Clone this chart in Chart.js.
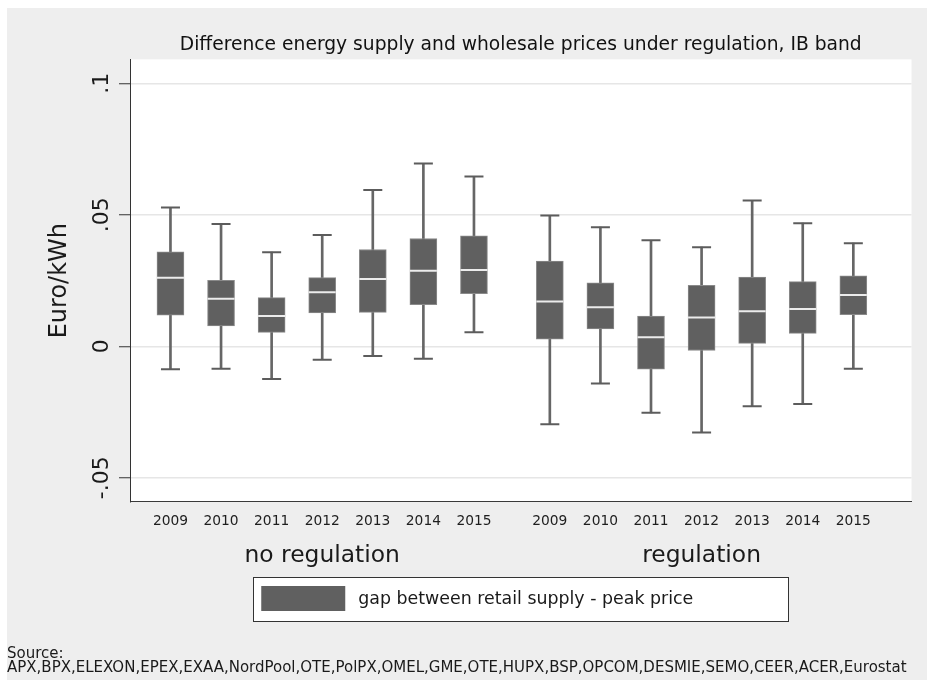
<!DOCTYPE html>
<html>
<head>
<meta charset="utf-8">
<script src="https://cdn.jsdelivr.net/npm/chart.js@4.4.1/dist/chart.umd.min.js"></script>
<style>
  html, body { margin: 0; padding: 0; background: #fff; }
  #wrap { width: 927px; height: 680px; }
</style>
</head>
<body>
<div id="wrap"><canvas id="chart" width="927" height="680"></canvas></div>
<script>
// categories
const years = ['2009', '2010', '2011', '2012', '2013', '2014', '2015'];
const groups = ['no regulation', 'regulation'];

// box stats in Euro/kWh: lower whisker, 25th pct, median, 75th pct, upper whisker
const noRegLow  = [-0.0087, -0.0085, -0.0124, -0.0051, -0.0037, -0.0047, 0.0053];
const noRegQ1   = [0.0118, 0.0077, 0.0053, 0.0127, 0.0129, 0.0158, 0.0200];
const noRegMed  = [0.0261, 0.0181, 0.0115, 0.0205, 0.0256, 0.0287, 0.0290];
const noRegQ3   = [0.0359, 0.0251, 0.0185, 0.0261, 0.0368, 0.0410, 0.0420];
const noRegHigh = [0.0528, 0.0465, 0.0358, 0.0423, 0.0594, 0.0695, 0.0646];

const regLow  = [-0.0296, -0.0141, -0.0253, -0.0328, -0.0228, -0.0219, -0.0085];
const regQ1   = [0.0027, 0.0066, -0.0087, -0.0016, 0.0011, 0.0049, 0.0120];
const regMed  = [0.0170, 0.0148, 0.0034, 0.0109, 0.0133, 0.0142, 0.0195];
const regQ3   = [0.0324, 0.0241, 0.0115, 0.0232, 0.0263, 0.0246, 0.0268];
const regHigh = [0.0497, 0.0453, 0.0403, 0.0377, 0.0554, 0.0468, 0.0392];

// y axis ticks
const yTickValues = [-0.05, 0, 0.05, 0.1];
const yTickLabels = ['-.05', '0', '.05', '.1'];

const titleText = 'Difference energy supply and wholesale prices under regulation, IB band';
const legendLabel = 'gap between retail supply - peak price';
const sourceLines = [
  'Source:',
  'APX,BPX,ELEXON,EPEX,EXAA,NordPool,OTE,PolPX,OMEL,GME,OTE,HUPX,BSP,OPCOM,DESMIE,SEMO,CEER,ACER,Eurostat'
];

const BOX_COLOR = '#606060';
const FONT = '"DejaVu Sans", Verdana, sans-serif';

// x slot of each box: one unit per year, half a unit extra between the groups
const positions = groups.flatMap((g, gi) => years.map((y, i) => 1 + i + gi * (years.length + 0.5)));
const yearLabels = groups.flatMap(() => years);

const low  = noRegLow.concat(regLow);
const q1   = noRegQ1.concat(regQ1);
const med  = noRegMed.concat(regMed);
const q3   = noRegQ3.concat(regQ3);
const high = noRegHigh.concat(regHigh);

const boxData = positions.map((x, i) => ({ x, y: [q1[i], q3[i]] }));
const whiskerData = positions.map((x, i) => ({ x, y: [low[i], high[i]] }));
const medianData = positions.map((x, i) => ({ x, y: med[i] }));
const capData = positions.flatMap((x, i) => [{ x, y: high[i] }, { x, y: low[i] }]);

Chart.defaults.font.family = FONT;
Chart.defaults.color = '#1a1a1a';

// background, rotated y labels, group labels, legend box and source note
const stataFrame = {
  id: 'stataFrame',
  beforeDraw(chart) {
    const { ctx, chartArea: a } = chart;
    ctx.save();
    ctx.fillStyle = '#ffffff';
    ctx.fillRect(0, 0, chart.width, chart.height);
    ctx.fillStyle = '#eeeeee';
    ctx.fillRect(7, 8, chart.width - 7, chart.height - 8);
    ctx.fillStyle = '#ffffff';
    ctx.fillRect(a.left, a.top, a.right - a.left, a.bottom - a.top);
    ctx.restore();
  },
  afterDraw(chart) {
    const { ctx, chartArea: a } = chart;
    const ys = chart.scales.y;
    const xs = chart.scales.x;
    ctx.save();
    ctx.fillStyle = '#1a1a1a';

    // y tick labels, rotated like Stata
    ctx.font = '22px ' + FONT;
    ctx.textAlign = 'center';
    ctx.textBaseline = 'middle';
    yTickValues.forEach((v, i) => {
      ctx.save();
      ctx.translate(a.left - 28, ys.getPixelForValue(v));
      ctx.rotate(-Math.PI / 2);
      ctx.fillText(yTickLabels[i], 0, 0);
      ctx.restore();
    });

    // group labels under the years
    ctx.font = '23.4px ' + FONT;
    groups.forEach((g, gi) => {
      const slots = positions.slice(gi * years.length, (gi + 1) * years.length);
      const mid = (xs.getPixelForValue(slots[0]) + xs.getPixelForValue(slots[slots.length - 1])) / 2;
      ctx.fillText(g, mid, a.bottom + 54);
    });

    // legend
    const cx = (a.left + a.right) / 2;
    const lx = cx - 267.5, ly = a.bottom + 75, lw = 535, lh = 44;
    ctx.fillStyle = '#ffffff';
    ctx.fillRect(lx, ly, lw, lh);
    ctx.strokeStyle = '#333333';
    ctx.lineWidth = 1;
    ctx.strokeRect(Math.round(lx) + 0.5, Math.round(ly) + 0.5, lw, lh);
    ctx.fillStyle = BOX_COLOR;
    ctx.fillRect(lx + 8, ly + 9, 84, 25);
    ctx.fillStyle = '#1a1a1a';
    ctx.font = '17.4px ' + FONT;
    ctx.textAlign = 'left';
    ctx.fillText(legendLabel, lx + 105, ly + 22);

    // source note
    ctx.font = '15px ' + FONT;
    ctx.fillText(sourceLines[0], 7, 654);
    ctx.fillText(sourceLines[1], 7, 668);
    ctx.restore();
  }
};

new Chart(document.getElementById('chart'), {
  type: 'bar',
  data: {
    datasets: [
      {
        type: 'line',
        label: 'median',
        data: medianData,
        showLine: false,
        pointStyle: 'line',
        pointRadius: 13.5,
        pointBorderWidth: 2,
        pointBorderColor: '#ececec',
        order: 0
      },
      {
        label: legendLabel,
        data: boxData,
        backgroundColor: BOX_COLOR,
        borderColor: '#8a8a8a',
        borderWidth: 1,
        borderSkipped: false,
        barThickness: 27,
        grouped: false,
        order: 1
      },
      {
        type: 'line',
        label: 'caps',
        data: capData,
        showLine: false,
        pointStyle: 'line',
        pointRadius: 9.5,
        pointBorderWidth: 2,
        pointBorderColor: '#5c5c5c',
        order: 2
      },
      {
        label: 'whiskers',
        data: whiskerData,
        backgroundColor: '#666666',
        borderWidth: 0,
        barThickness: 2,
        grouped: false,
        order: 3
      }
    ]
  },
  options: {
    responsive: false,
    animation: false,
    events: [],
    layout: { padding: { left: 0, right: 9.3, top: 0, bottom: 0 } },
    plugins: {
      legend: { display: false },
      tooltip: { enabled: false },
      title: {
        display: true,
        fullSize: false,
        text: titleText,
        color: '#111111',
        font: { size: 18.7, weight: 'normal' },
        padding: { top: 33.5, bottom: 3.4 }
      }
    },
    scales: {
      x: {
        type: 'linear',
        offset: false,
        min: 0.2,
        max: 15.65,
        afterBuildTicks: s => { s.ticks = positions.map(v => ({ value: v })); },
        afterFit: s => { s.height = 178; },
        grid: { display: false, drawTicks: false, offset: false },
        border: { display: true, color: '#3a3a3a', width: 1 },
        ticks: {
          autoSkip: false,
          maxRotation: 0,
          minRotation: 0,
          padding: 10.7,
          color: '#1e1e1e',
          font: { size: 13.8 },
          callback: (v, i) => yearLabels[i]
        }
      },
      y: {
        min: -0.0592,
        max: 0.1091,
        afterBuildTicks: s => { s.ticks = yTickValues.map(v => ({ value: v })); },
        afterFit: s => { s.width = 130; },
        ticks: { display: false },
        grid: {
          color: '#e6e6e6',
          lineWidth: 1.5,
          drawTicks: true,
          tickLength: 11,
          tickColor: '#333333',
          tickWidth: 1
        },
        border: { display: true, color: '#333333', width: 1 },
        title: {
          display: true,
          text: 'Euro/kWh',
          color: '#1a1a1a',
          font: { size: 24 },
          padding: { top: 45, bottom: 0 }
        }
      }
    }
  },
  plugins: [stataFrame]
});
</script>
</body>
</html>
